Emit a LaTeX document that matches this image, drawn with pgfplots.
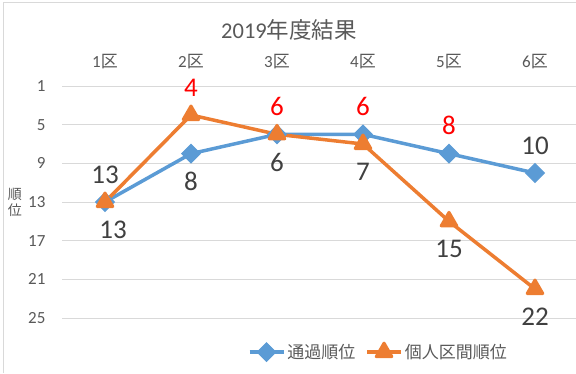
\documentclass[border=0pt]{standalone}
\usepackage{pgfplots}
\pgfplotsset{compat=1.18}
\usepackage{fontspec}
\setmainfont{Carlito}
\newfontfamily\jp{Noto Sans CJK JP}
\definecolor{cblue}{HTML}{5B9BD5}
\definecolor{corange}{HTML}{ED7D31}
\definecolor{tgray}{HTML}{595959}
\definecolor{lgray}{HTML}{404040}
\definecolor{ggrid}{HTML}{D9D9D9}
\definecolor{lred}{HTML}{FF0000}
\begin{document}
\begin{tikzpicture}
\path[use as bounding box] (0pt,0pt) rectangle (576pt,373pt);
\draw[ggrid, line width=0.75pt] (3pt,0pt) -- (3pt,370.5pt) -- (576pt,370.5pt);
\node[font=\fontsize{22.5}{26}\selectfont, text=tgray] at (289pt,343pt) {2019{\jp 年度結果}};
\node[font=\jp\fontsize{14}{16.5}\selectfont, text=tgray, align=center, inner sep=0pt] at (15pt,170.5pt) {順\\位};
\begin{axis}[
  at={(62pt,55pt)}, anchor=south west,
  scale only axis, width=516pt, height=232pt,
  xmin=-0.5, xmax=5.5, ymin=1, ymax=25, y dir=reverse,
  clip=false,
  /pgf/number format/assume math mode=true,
  xtick={0,1,2,3,4,5},
  xticklabels={1{\jp 区},2{\jp 区},3{\jp 区},4{\jp 区},5{\jp 区},6{\jp 区}},
  xticklabel pos=upper,
  ytick={1,5,9,13,17,21,25},
  axis line style={draw=none},
  major tick length=0pt,
  ymajorgrids, grid style={ggrid, line width=0.75pt},
  xticklabel style={font=\fontsize{17}{20}\selectfont, text=tgray, yshift=14pt},
  yticklabel style={font=\fontsize{17}{20}\selectfont, text=tgray, xshift=-13pt},
  legend style={at={(axis description cs:0.613,-0.147)}, anchor=center, draw=none, fill=none,
    legend columns=-1, font=\jp\fontsize{17}{20}\selectfont, text=tgray,
    /tikz/every even column/.append style={column sep=8pt}},
  legend image code/.code={\draw[mark repeat=2,mark phase=2,#1] plot coordinates {(0pt,0pt)(17pt,0pt)(34pt,0pt)};},
]
\addplot[cblue, line width=3.5pt, mark=square*, mark size=6.6pt,
  mark options={rotate=45, solid, line width=1pt, fill=cblue, draw=cblue}]
  coordinates {(0,13) (1,8) (2,6) (3,6) (4,8) (5,10)};
\addlegendentry{通過順位}
\addplot[corange, line width=3.5pt, mark=triangle*, mark size=9pt,
  mark options={solid, line width=3pt, line join=round, fill=corange, draw=corange}]
  coordinates {(0,13) (1,4) (2,6) (3,7) (4,15) (5,22)};
\addlegendentry{個人区間順位}
% labels: black above
\addplot[forget plot, draw=none, mark=none, nodes near coords, nodes near coords align=above,
  every node near coord/.append style={inner sep=0pt, yshift=18.5pt, text=lgray, font=\fontsize{27}{30}\selectfont}]
  coordinates {(0,13) (5,10)};
% labels: red above
\addplot[forget plot, draw=none, mark=none, nodes near coords, nodes near coords align=above,
  every node near coord/.append style={inner sep=0pt, yshift=18.5pt, text=lred, font=\fontsize{27}{30}\selectfont}]
  coordinates {(1,4) (2,6) (3,6) (4,8)};
% labels: black below
\addplot[forget plot, draw=none, mark=none, nodes near coords, nodes near coords align=below,
  every node near coord/.append style={inner sep=0pt, yshift=-18.5pt, text=lgray, font=\fontsize{27}{30}\selectfont}]
  coordinates {(1,8) (2,6) (3,7) (4,15) (5,22)};
\addplot[forget plot, draw=none, mark=none, nodes near coords, nodes near coords align=below,
  every node near coord/.append style={inner sep=0pt, yshift=-18.5pt, xshift=8pt, text=lgray, font=\fontsize{27}{30}\selectfont}]
  coordinates {(0,13)};
\end{axis}
\end{tikzpicture}
\end{document}
